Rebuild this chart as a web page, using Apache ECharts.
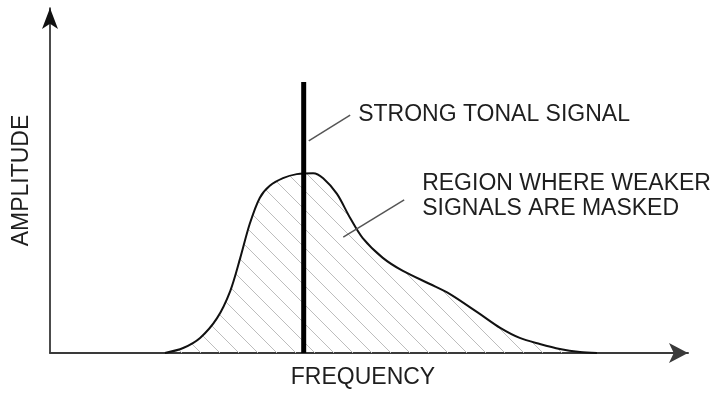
<!DOCTYPE html>
<html>
<head>
<meta charset="utf-8">
<style>
  html, body { margin: 0; padding: 0; background: #fff; }
  #chart { width: 712px; height: 394px; }
</style>
<script src="https://cdn.jsdelivr.net/npm/echarts@6/dist/echarts.min.js"></script>
</head>
<body>
<div id="chart"></div>
<script>
// masking curve, frequency vs amplitude (arbitrary units)
var curveFreq = [18.3, 21.2, 23.9, 26.6, 28.7, 30.3, 31.8, 33.4, 35.0, 37.1, 39.3, 41.9, 43.5, 45.7, 47.8, 49.8, 53.0, 56.2, 60.5, 63.7, 68.5, 71.7, 74.8, 78.0, 81.2, 84.4, 87.1];
var curveAmp  = [0, 1.5, 4.5, 10.4, 18.5, 28.4, 38.5, 46.3, 49.9, 52.2, 53.4, 53.7, 52.2, 47.5, 40.3, 34.3, 28.4, 24.5, 20.6, 17.6, 11.6, 7.5, 4.5, 2.7, 1.2, 0.3, 0];

// the strong tone
var toneFreq = 40.4;
var toneAmp = 80.9;

// leader lines [from, to]
var leaderTone = [[41.2, 63.3], [47.8, 71.0]];
var leaderMask = [[46.7, 34.6], [56.4, 45.7]];

var toneText = 'STRONG TONAL SIGNAL';
var maskText = 'REGION WHERE WEAKER\nSIGNALS ARE MASKED';

var curveData = curveFreq.map(function (f, i) { return [f, curveAmp[i]]; });

// diagonal hatch for the masked area
function hatch() {
  var s = 19;
  var c = document.createElement('canvas');
  c.width = s;
  c.height = s;
  var ctx = c.getContext('2d');
  ctx.strokeStyle = '#bdbdbd';
  ctx.lineWidth = 1;
  ctx.beginPath();
  ctx.moveTo(-2, -2); ctx.lineTo(s + 2, s + 2);
  ctx.moveTo(-2, s - 2); ctx.lineTo(2, s + 2);
  ctx.moveTo(s - 2, -2); ctx.lineTo(s + 2, 2);
  ctx.stroke();
  return c;
}

var font = 'Liberation Sans, Arial, sans-serif';

var myChart = echarts.init(document.getElementById('chart'));

myChart.setOption({
  animation: false,
  grid: {
    left: 50,
    right: 24,
    top: 8,
    bottom: 41
  },
  xAxis: {
    type: 'value',
    min: 0,
    max: 101.6,
    name: 'FREQUENCY',
    nameLocation: 'middle',
    nameGap: 13,
    nameTextStyle: { fontFamily: font, fontSize: 23, color: '#1e1e1e', padding: [0, 12, 0, 0] },
    axisLine: {
      show: true,
      symbol: ['none', 'arrow'],
      symbolSize: [15, 19],
      lineStyle: { color: '#3a3a3a', width: 2 }
    },
    axisTick: { show: false },
    axisLabel: { show: false },
    splitLine: { show: false }
  },
  yAxis: {
    type: 'value',
    min: 0,
    max: 103,
    name: 'AMPLITUDE',
    nameLocation: 'middle',
    nameGap: 17,
    nameTextStyle: { fontFamily: font, fontSize: 23, color: '#1e1e1e' },
    axisLine: {
      show: true,
      symbol: ['none', 'arrow'],
      symbolSize: [12, 21],
      lineStyle: { color: '#111', width: 1.5 }
    },
    axisTick: { show: false },
    axisLabel: { show: false },
    splitLine: { show: false }
  },
  series: [
    {
      name: 'mask',
      type: 'line',
      smooth: 0.3,
      symbol: 'none',
      lineStyle: { color: '#111', width: 2 },
      areaStyle: {
        color: { image: hatch(), repeat: 'repeat' },
        opacity: 1
      },
      data: curveData,
      z: 2
    },
    {
      name: 'tone',
      type: 'line',
      symbol: 'none',
      lineStyle: { color: '#000', width: 5 },
      data: [[toneFreq, 0], [toneFreq, toneAmp]],
      z: 4
    },
    {
      name: 'leaderTone',
      type: 'line',
      symbol: 'none',
      lineStyle: { color: '#555', width: 1.5 },
      data: leaderTone,
      endLabel: {
        show: true,
        distance: 8,
        offset: [0, -1],
        formatter: toneText,
        fontFamily: font,
        fontSize: 23,
        color: '#1e1e1e'
      },
      z: 3
    },
    {
      name: 'leaderMask',
      type: 'line',
      symbol: 'none',
      lineStyle: { color: '#555', width: 1.5 },
      data: leaderMask,
      endLabel: {
        show: true,
        distance: 18,
        offset: [0, -4],
        formatter: maskText,
        fontFamily: font,
        fontSize: 23,
        lineHeight: 25,
        color: '#1e1e1e'
      },
      z: 3
    }
  ]
});
</script>
</body>
</html>
